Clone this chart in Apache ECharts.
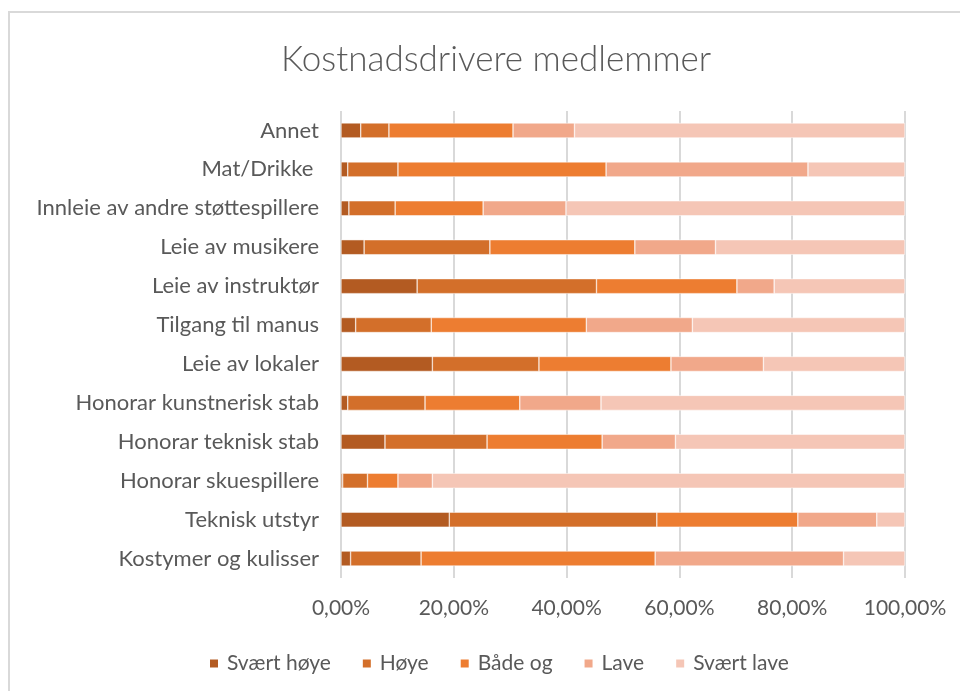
<!DOCTYPE html>
<html>
<head>
<meta charset="utf-8">
<script src="https://cdn.jsdelivr.net/npm/echarts@6/dist/echarts.min.js"></script>
<style>
	html, body { margin: 0; padding: 0; background: #fff; }
	#chart { width: 960px; height: 691px; }
</style>
</head>
<body>
<div id="chart"></div>
<script>
// categories top to bottom, as they appear in the chart
var categories = [
	'Annet', 'Mat/Drikke ', 'Innleie av andre støttespillere', 'Leie av musikere',
	'Leie av instruktør', 'Tilgang til manus', 'Leie av lokaler', 'Honorar kunstnerisk stab',
	'Honorar teknisk stab', 'Honorar skuespillere', 'Teknisk utstyr', 'Kostymer og kulisser'
];
var seriesNames = ['Svært høye', 'Høye', 'Både og', 'Lave', 'Svært lave'];
var svaertHoye = [3.5, 1.2, 1.4, 4.1, 13.5, 2.6, 16.2, 1.2, 7.8, 0.3, 19.2, 1.7];
var hoye = [5.0, 8.9, 8.2, 22.3, 31.8, 13.4, 18.9, 13.7, 18.1, 4.4, 36.8, 12.5];
var baadeOg = [22.0, 36.9, 15.6, 25.7, 24.9, 27.5, 23.4, 16.8, 20.4, 5.4, 25.0, 41.5];
var lave = [10.9, 35.8, 14.7, 14.3, 6.6, 18.8, 16.4, 14.4, 13.0, 6.1, 14.0, 33.4];
var svaertLave = [58.6, 17.2, 60.1, 33.6, 23.2, 37.7, 25.1, 53.9, 40.7, 83.8, 5.0, 10.9];
var xTicks = [0, 20, 40, 60, 80, 100];

var colors = ['#B35B22', '#D36F2A', '#ED7D31', '#F1A88A', '#F5C6B6'];
var allData = [svaertHoye, hoye, baadeOg, lave, svaertLave];
var font = 'Lato';

var chart = echarts.init(document.getElementById('chart'));

var series = [];
seriesNames.forEach(function(name, i){
	series.push({
		name: name,
		type: 'bar',
		stack: 'total',
		barWidth: 15,
		itemStyle: { color: colors[i], borderColor: '#fff', borderWidth: 0.5 },
		data: allData[i]
	});
});

var option = {
	animation: false,
	color: colors,
	title: {
		text: 'Kostnadsdrivere medlemmer',
		left: 276,
		top: 37,
		textStyle: { fontFamily: font, fontWeight: 300, fontSize: 35, color: '#595959' }
	},
	graphic: [{
		type: 'rect',
		shape: { x: 9, y: 12, width: 980, height: 700 },
		style: { fill: 'none', stroke: '#D9D9D9', lineWidth: 2 },
		silent: true
	}],
	legend: {
		data: seriesNames,
		top: 648,
		left: 203,
		icon: 'rect',
		itemWidth: 10,
		itemHeight: 10,
		itemGap: 30,
		textStyle: { fontFamily: font, fontSize: 21, color: '#595959', padding: [0, 0, 0, 3] }
	},
	grid: { left: 341, right: 55, top: 111, bottom: 113, containLabel: false },
	xAxis: {
		type: 'value',
		min: xTicks[0],
		max: xTicks[xTicks.length - 1],
		interval: 20,
		axisLine: { show: false },
		axisTick: { show: false },
		axisLabel: {
			margin: 20,
			fontFamily: font, fontSize: 21, color: '#595959',
			formatter: function(v){ return v + ',00%'; }
		},
		splitLine: { lineStyle: { color: '#D9D9D9', width: 2 } }
	},
	yAxis: {
		type: 'category',
		inverse: true,
		data: categories,
		axisLine: { show: false },
		axisTick: { show: false },
		axisLabel: { margin: 22, fontFamily: font, fontSize: 22, color: '#595959' }
	},
	series: series
};
chart.setOption(option);
</script>
</body>
</html>
